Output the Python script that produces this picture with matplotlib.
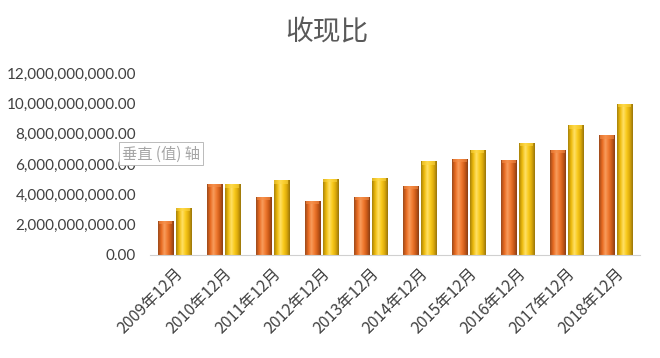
import numpy as np
import matplotlib
matplotlib.use("Agg")
import matplotlib.pyplot as plt
from matplotlib.ticker import FuncFormatter
from matplotlib.colors import LinearSegmentedColormap

plt.rcParams['font.family'] = ['Lato', 'Noto Sans CJK SC', 'DejaVu Sans']

periods = ["2009年12月", "2010年12月", "2011年12月", "2012年12月", "2013年12月",
           "2014年12月", "2015年12月", "2016年12月", "2017年12月", "2018年12月"]
# two series, values in yuan
series_a = [2.24e9, 4.69e9, 3.82e9, 3.55e9, 3.84e9, 4.54e9, 6.32e9, 6.27e9, 6.95e9, 7.89e9]
series_b = [3.09e9, 4.66e9, 4.91e9, 5.03e9, 5.09e9, 6.18e9, 6.95e9, 7.37e9, 8.55e9, 9.95e9]
yticks = [0, 2e9, 4e9, 6e9, 8e9, 10e9, 12e9]

orange_cm = LinearSegmentedColormap.from_list(
    "o", ["#9c4a1c", "#e86a20", "#f89c5c", "#f07a30", "#cc5a18", "#8a3f15"])
yellow_cm = LinearSegmentedColormap.from_list(
    "y", ["#a8820a", "#eebb0c", "#ffe066", "#f9ca1c", "#dcaa0a", "#9a760a"])

fig = plt.figure(figsize=(6.6, 3.58), dpi=100)
ax = fig.add_axes([0.227, 0.288, 0.743, 0.508])

x = np.arange(len(periods))
w = 0.31
off = 0.18
bars_a = ax.bar(x - off, series_a, w, color="#e96f25", edgecolor="#8a3f15", linewidth=0.6)
bars_b = ax.bar(x + off, series_b, w, color="#f5c518", edgecolor="#9a760a", linewidth=0.6)

grad = np.linspace(0, 1, 64).reshape(1, -1)
for bars, cm in ((bars_a, orange_cm), (bars_b, yellow_cm)):
    for b in bars:
        x0, y0 = b.get_x(), b.get_y()
        im = ax.imshow(grad, cmap=cm, aspect="auto", zorder=b.get_zorder() + 0.1,
                       extent=[x0, x0 + b.get_width(), y0, y0 + b.get_height()])
        im.set_clip_path(b)
        # small lighter cap on top
        cap = 0.018 * 12e9
        ax.bar(x0 + b.get_width() / 2, cap, b.get_width() * 0.9,
               bottom=y0 + b.get_height() - cap,
               color=cm(0.5), alpha=0.6, linewidth=0, zorder=b.get_zorder() + 0.2)

ax.set_xlim(-0.5, len(periods) - 0.5)
ax.set_ylim(0, 12e9)
ax.set_yticks(yticks)
ax.yaxis.set_major_formatter(FuncFormatter(lambda v, p: f"{v:,.2f}"))
ax.set_xticks(x)
ax.set_xticklabels(periods, rotation=45, ha="right", rotation_mode="anchor",
                   fontsize=11.5, color="#404040", family=['Noto Sans CJK SC'])
ax.tick_params(axis="y", length=0, labelsize=11, labelcolor="#404040", pad=10)
ax.tick_params(axis="x", length=0, pad=7)

for s in ("top", "right", "left"):
    ax.spines[s].set_visible(False)
ax.spines["bottom"].set_color("#d0d0d0")

fig.text(0.495, 0.91, "收现比", ha="center", va="center", fontsize=20,
         color="#595959", family=['Noto Sans CJK SC'])

fig.text(0.185, 0.57, "垂直 (值) 轴", ha="left", va="center", fontsize=11,
         color="#a6a6a6", family=['Noto Sans CJK SC'],
         bbox=dict(boxstyle="square,pad=0.2", fc="white", ec="#b0b0b0", lw=0.6))

fig.savefig("out.png", dpi=100)
